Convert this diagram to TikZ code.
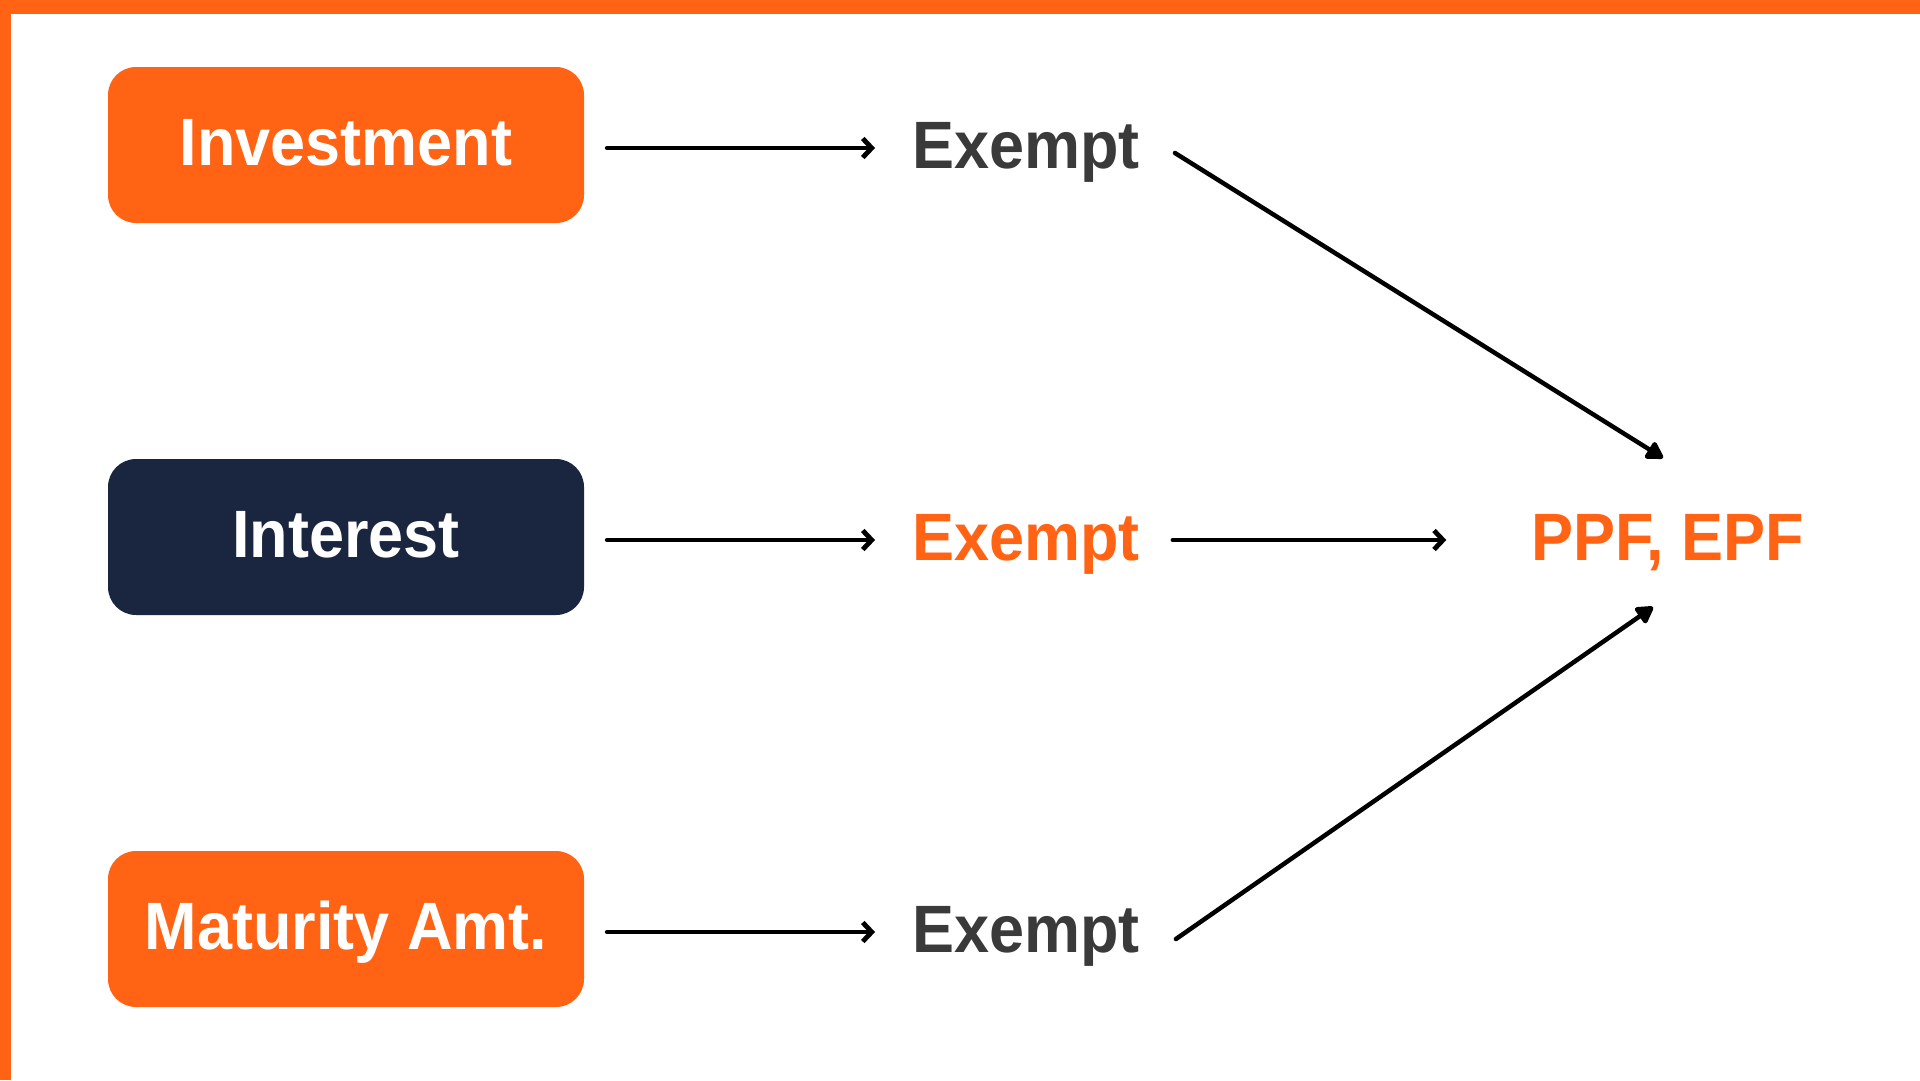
\documentclass[tikz,border=0pt]{standalone}
\usepackage{fontspec}
\setmainfont[FakeStretch=0.94]{Liberation Sans}
\usetikzlibrary{arrows.meta,calc}
\definecolor{brandorange}{HTML}{FF6313}
\definecolor{navybox}{HTML}{1A2540}
\definecolor{exgray}{HTML}{3A3A3A}
\tikzset{
  boxnode/.style={rounded corners=28pt, minimum width=476pt, minimum height=156pt,
    inner sep=0pt, text=white, font=\bfseries\fontsize{67}{80}\selectfont,
    text height=48pt, text depth=8pt},
  lbl/.style={inner sep=0pt, anchor=base, font=\bfseries\fontsize{67}{80}\selectfont},
  harrow/.style={line width=4.8pt, line cap=round, -{Straight Barb[length=9pt,width=19pt]}},
  darrow/.style={line width=4.5pt, line cap=round, -{Triangle[length=19pt,width=21pt,round]}}
}
\begin{document}
\begin{tikzpicture}[x=1pt,y=-1pt]
\useasboundingbox (0,0) rectangle (1920,1080);
\fill[white] (0,0) rectangle (1920,1080);
\fill[brandorange] (0,0) rectangle (1920,14);
\fill[brandorange] (0,0) rectangle (11,1080);

\node[boxnode, fill=brandorange] (inv) at (346,145) {Investment};
\node[boxnode, fill=navybox] (int) at (346,537) {Interest};
\node[boxnode, fill=brandorange] (mat) at (346,929) {Maturity Amt.};

\node[lbl, text=exgray] (ex1) at (1026,168) {Exempt};
\node[lbl, text=brandorange] (ex2) at (1026,560) {Exempt};
\node[lbl, text=exgray] (ex3) at (1026,952) {Exempt};

\node[lbl, text=brandorange] (ppf) at (1667.5,560) {PPF, EPF};

\draw[harrow] ($(inv.east)+(23pt,-3pt)$) -- ($(ex1.west |- inv.east)+(-37pt,-3pt)$);
\draw[harrow] ($(int.east)+(23pt,-3pt)$) -- ($(ex2.west |- int.east)+(-37pt,-3pt)$);
\draw[harrow] ($(mat.east)+(23pt,-3pt)$) -- ($(ex3.west |- mat.east)+(-37pt,-3pt)$);

\draw[harrow] ($(ex2.east |- int.east)+(33pt,-3pt)$) -- ($(ppf.west |- int.east)+(-84.5pt,-3pt)$);

\draw[darrow] ($(ex1.base east)+(35pt,15pt)$) -- ($(ppf.base)+(-4.5pt,102pt)$);
\draw[darrow] ($(ex3.base east)+(36pt,13pt)$) -- ($(ppf.base)+(-14.5pt,-47pt)$);
\end{tikzpicture}
\end{document}
